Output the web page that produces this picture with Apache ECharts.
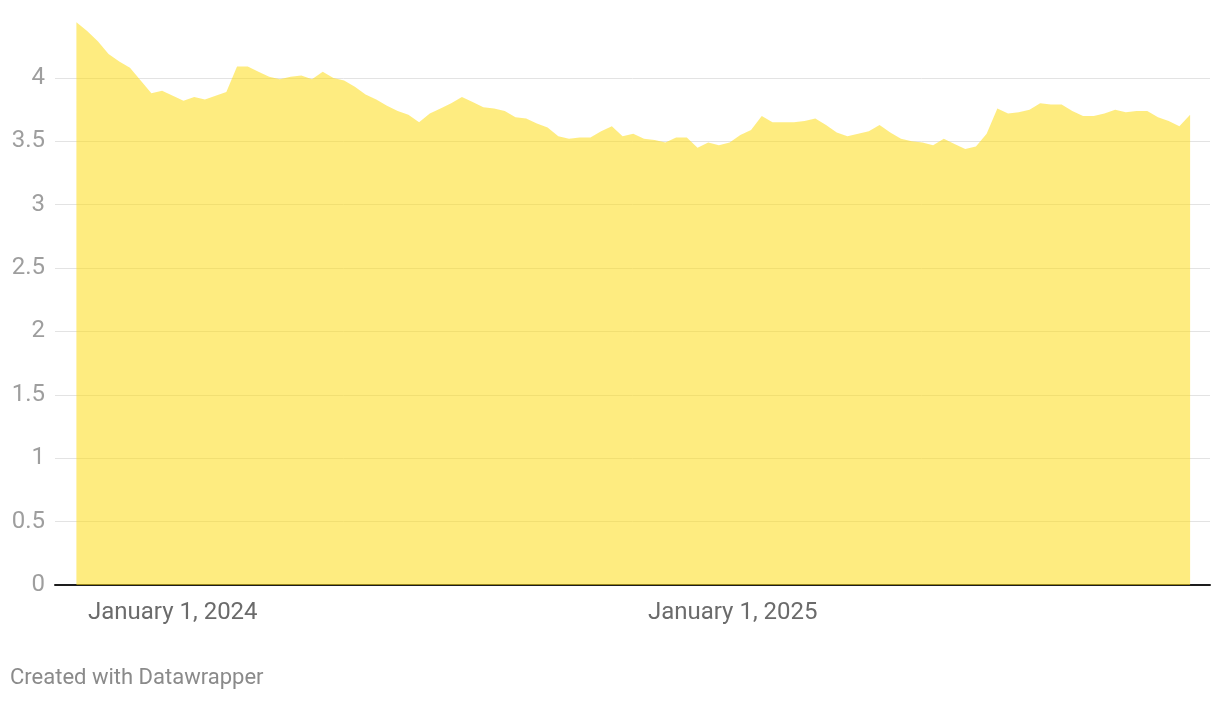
<!DOCTYPE html>
<html>
<head>
<meta charset="utf-8">
<script src="https://cdn.jsdelivr.net/npm/echarts@6/dist/echarts.min.js"></script>
<style>
    html, body {
        margin: 0;
        padding: 0;
        background: #ffffff;
    }

    #chart {
        width: 1220px;
        height: 702px;
    }
</style>
</head>
<body>
<div id="chart"></div>
<script>
    // weekly series, first week starts Monday 2023-10-30
    var firstWeek = '2023-10-30';
    var values = [
        4.44, 4.37, 4.29, 4.19, 4.13, 4.08, 3.98, 3.88, 3.90, 3.86,
        3.82, 3.85, 3.83, 3.86, 3.89, 4.09, 4.09, 4.05, 4.01, 3.99,
        4.01, 4.02, 3.99, 4.05, 4.00, 3.98, 3.93, 3.87, 3.83, 3.78,
        3.74, 3.71, 3.65, 3.72, 3.76, 3.80, 3.85, 3.81, 3.77, 3.76,
        3.74, 3.69, 3.68, 3.64, 3.61, 3.54, 3.52, 3.53, 3.53, 3.58,
        3.62, 3.54, 3.56, 3.52, 3.51, 3.49, 3.53, 3.53, 3.45, 3.49,
        3.47, 3.49, 3.55, 3.59, 3.70, 3.65, 3.65, 3.65, 3.66, 3.68,
        3.63, 3.57, 3.54, 3.56, 3.58, 3.63, 3.57, 3.52, 3.50, 3.49,
        3.47, 3.52, 3.48, 3.44, 3.46, 3.56, 3.76, 3.72, 3.73, 3.75,
        3.80, 3.79, 3.79, 3.74, 3.70, 3.70, 3.72, 3.75, 3.73, 3.74,
        3.74, 3.69, 3.66, 3.62, 3.71
    ];
    var yTicks = [0, 0.5, 1, 1.5, 2, 2.5, 3, 3.5, 4];
    var axisStart = '2023-10-16';
    var axisEnd = '2025-11-09';
    var months = ['January', 'February', 'March', 'April', 'May', 'June', 'July',
        'August', 'September', 'October', 'November', 'December'];

    var weeks = [];
    var d0 = new Date(firstWeek + 'T00:00:00');
    for (var i = 0; i < values.length; i++) {
        var d = new Date(d0.getFullYear(), d0.getMonth(), d0.getDate() + 7 * i);
        weeks.push(d);
    }
    var seriesData = weeks.map(function (d, i) {
        return [d, values[i]];
    });

    var myChart = echarts.init(document.getElementById('chart'));
    myChart.setOption({
        animation: false,
        textStyle: {
            fontFamily: 'Roboto'
        },
        grid: {
            left: 55,
            right: 10,
            top: 14.6,
            bottom: 117
        },
        xAxis: {
            type: 'time',
            min: new Date(axisStart + 'T00:00:00').getTime(),
            max: new Date(axisEnd + 'T00:00:00').getTime(),
            axisLine: {
                lineStyle: {
                    color: '#1d1d1d',
                    width: 2
                }
            },
            axisTick: {
                show: false
            },
            splitLine: {
                show: false
            },
            axisLabel: {
                margin: 16,
                fontSize: 24,
                color: '#6b6b6b',
                hideOverlap: false,
                formatter: function (value) {
                    var d = new Date(value);
                    if (d.getMonth() === 0 && d.getDate() === 1) {
                        return months[0] + ' 1, ' + d.getFullYear();
                    }
                    return '';
                }
            }
        },
        yAxis: {
            type: 'value',
            min: 0,
            max: 4.5,
            interval: 0.5,
            axisLine: {
                show: false
            },
            axisTick: {
                show: false
            },
            splitLine: {
                showMaxLine: false,
                lineStyle: {
                    color: '#e3e3e3',
                    width: 1
                }
            },
            axisLabel: {
                margin: 10,
                fontSize: 24,
                color: '#9e9e9e',
                showMaxLabel: false,
                formatter: function (v) {
                    return yTicks.indexOf(v) >= 0 ? String(v) : '';
                }
            }
        },
        series: [{
            type: 'line',
            data: seriesData,
            symbol: 'none',
            lineStyle: {
                width: 0,
                opacity: 0
            },
            areaStyle: {
                color: 'rgb(253,221,24)',
                opacity: 0.55
            }
        }],
        graphic: [{
            type: 'text',
            left: 10,
            top: 667,
            style: {
                text: 'Created with Datawrapper',
                fontSize: 22,
                fontFamily: 'Roboto',
                fill: '#8a8a8a'
            }
        }]
    });
</script>
</body>
</html>
